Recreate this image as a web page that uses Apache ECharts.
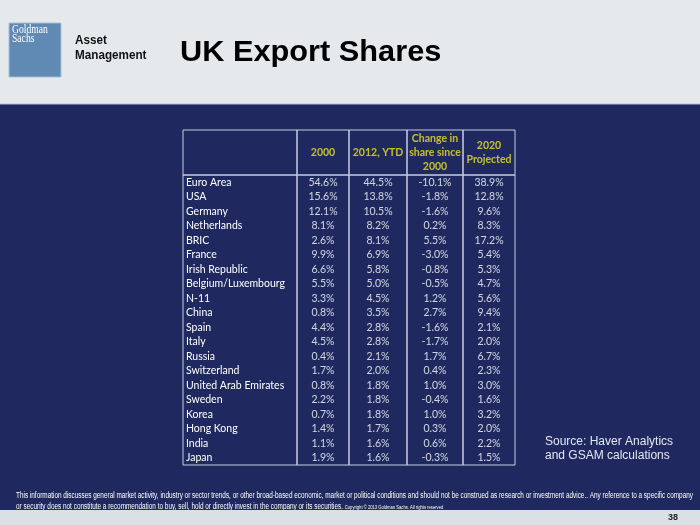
<!DOCTYPE html>
<html>
<head>
<meta charset="utf-8">
<script src="https://cdn.jsdelivr.net/npm/echarts@6/dist/echarts.min.js"></script>
<style>
  html, body { margin: 0; padding: 0; background: #e6e9ec; }
  #chart { width: 700px; height: 525px; }
</style>
</head>
<body>
<div id="chart"></div>
<script>
// table data
const countries = ["Euro Area", "USA", "Germany", "Netherlands", "BRIC", "France", "Irish Republic",
  "Belgium/Luxembourg", "N-11", "China", "Spain", "Italy", "Russia", "Switzerland",
  "United Arab Emirates", "Sweden", "Korea", "Hong Kong", "India", "Japan"];
const columnTitles = ["", "2000", "2012, YTD", "Change in\nshare since\n2000", "2020\nProjected"];
const share2000 = [54.6, 15.6, 12.1, 8.1, 2.6, 9.9, 6.6, 5.5, 3.3, 0.8, 4.4, 4.5, 0.4, 1.7, 0.8, 2.2, 0.7, 1.4, 1.1, 1.9];
const share2012 = [44.5, 13.8, 10.5, 8.2, 8.1, 6.9, 5.8, 5.0, 4.5, 3.5, 2.8, 2.8, 2.1, 2.0, 1.8, 1.8, 1.8, 1.7, 1.6, 1.6];
const changeSince2000 = [-10.1, -1.8, -1.6, 0.2, 5.5, -3.0, -0.8, -0.5, 1.2, 2.7, -1.6, -1.7, 1.7, 0.4, 1.0, -0.4, 1.0, 0.3, 0.6, -0.3];
const projected2020 = [38.9, 12.8, 9.6, 8.3, 17.2, 5.4, 5.3, 4.7, 5.6, 9.4, 2.1, 2.0, 6.7, 2.3, 3.0, 1.6, 3.2, 2.0, 2.2, 1.5];

const valueCols = [share2000, share2012, changeSince2000, projected2020];

// layout
const colEdges = [183, 297, 349, 407, 463, 515];
const headTop = 130, bodyTop = 175, bodyBottom = 465;
const navy = "#1f295f";
const lineColor = "#c9cde0";
const cellFont = "Lato";
const cellSize = 10.5;

const footer1 = "This information discusses general market activity, industry or sector trends, or other broad-based economic, market or political conditions and should not be construed as research or investment advice.. Any reference to a specific company";
const footer2 = "or security does not constitute a recommendation to buy, sell, hold or directly invest in the company or its securities.";
const copyrightText = "Copyright \u00a9 2013 Goldman Sachs. All rights reserved";

// squeeze footer text like the narrow font of the slide
const ctx = document.createElement("canvas").getContext("2d");
ctx.font = "8.5px 'Liberation Sans'";
const footScale = 677 / ctx.measureText(footer1).width;
const foot2Width = ctx.measureText(footer2 + " ").width * footScale;

let grids = [], xAxes = [], yAxes = [], series = [];

for (let c = 0; c < 5; c++) {
  const left = colEdges[c];
  const width = colEdges[c + 1] - colEdges[c];
  // body grid
  grids.push({ left: left, top: bodyTop, width: width, height: bodyBottom - bodyTop,
    show: true, borderColor: lineColor, borderWidth: 1, backgroundColor: "transparent" });
  xAxes.push({ gridIndex: c, type: "category", data: [columnTitles[c]], show: false });
  yAxes.push({
    gridIndex: c, type: "category", data: countries, inverse: true, show: c === 0,
    axisLine: { show: false }, axisTick: { show: false }, splitLine: { show: false },
    axisLabel: { inside: true, margin: 3, color: "#ffffff", fontFamily: cellFont, fontSize: cellSize },
  });
}
for (let c = 0; c < 5; c++) {
  const left = colEdges[c];
  const width = colEdges[c + 1] - colEdges[c];
  // header grid
  grids.push({ left: left, top: headTop, width: width, height: bodyTop - headTop,
    show: true, borderColor: lineColor, borderWidth: 1, backgroundColor: "transparent" });
  xAxes.push({ gridIndex: 5 + c, type: "category", data: [columnTitles[c]], show: false });
  yAxes.push({ gridIndex: 5 + c, type: "category", data: ["head"], show: false });
}

valueCols.forEach((vals, k) => {
  const c = k + 1;
  series.push({
    type: "scatter", xAxisIndex: c, yAxisIndex: c, silent: true,
    symbol: "rect", symbolSize: 1, itemStyle: { color: "rgba(0,0,0,0)" },
    label: {
      show: true, position: "inside", color: "#ffffff", fontFamily: cellFont, fontSize: cellSize,
      formatter: (p) => p.value[2].toFixed(1) + "%",
    },
    data: vals.map((v, i) => [0, i, v]),
  });
  // column header
  series.push({
    type: "scatter", xAxisIndex: 5 + c, yAxisIndex: 5 + c, silent: true,
    symbol: "rect", symbolSize: 1, itemStyle: { color: "rgba(0,0,0,0)" },
    label: {
      show: true, position: "inside", color: "#ece41c", fontFamily: cellFont, fontSize: cellSize,
      fontWeight: "bold", lineHeight: 14, formatter: () => columnTitles[c],
    },
    data: [[0, 0]],
  });
});

const chart = echarts.init(document.getElementById("chart"), null, { renderer: "canvas" });
chart.setOption({
  animation: false,
  grid: grids,
  xAxis: xAxes,
  yAxis: yAxes,
  series: series,
  graphic: [
    { type: "rect", z: -10, shape: { x: 0, y: 0, width: 700, height: 104 }, style: { fill: "#e6e9ec" } },
    { type: "rect", z: -10, shape: { x: 0, y: 104, width: 700, height: 406 }, style: { fill: navy } },
    { type: "rect", z: -9, shape: { x: 0, y: 103.5, width: 700, height: 1 }, style: { fill: "#b9c0cc" } },
    // logo
    { type: "rect", z: -5, shape: { x: 9, y: 23, width: 52, height: 54 },
      style: { fill: "#6089b4", stroke: "#a9bfd6", lineWidth: 1 } },
    { type: "text", z: 5, x: 12, y: 36, scaleX: 0.74,
      style: { text: "Goldman", fill: "#ffffff", font: "13px 'Liberation Serif'", textVerticalAlign: "bottom" } },
    { type: "text", z: 5, x: 12, y: 45, scaleX: 0.74,
      style: { text: "Sachs", fill: "#ffffff", font: "13px 'Liberation Serif'", textVerticalAlign: "bottom" } },
    { type: "text", z: 5, x: 75, y: 47, scaleX: 0.9,
      style: { text: "Asset", fill: "#111111", font: "bold 13px 'Liberation Sans'", textVerticalAlign: "bottom" } },
    { type: "text", z: 5, x: 75, y: 62, scaleX: 0.9,
      style: { text: "Management", fill: "#111111", font: "bold 13px 'Liberation Sans'", textVerticalAlign: "bottom" } },
    // title
    { type: "text", z: 5, x: 180, y: 53, scaleX: 1.06,
      style: { text: "UK Export Shares", fill: "#000000", font: "bold 29px 'Liberation Sans'", textVerticalAlign: "middle" } },
    // source note
    { type: "text", z: 5, x: 545, y: 449,
      style: { text: "Source: Haver Analytics\nand GSAM calculations", fill: "#e4e7f0",
        font: "12px 'Liberation Sans'", lineHeight: 14, textVerticalAlign: "middle" } },
    // footer disclaimer
    { type: "text", z: 5, x: 16, y: 496, scaleX: footScale,
      style: { text: footer1, fill: "#ffffff", font: "8.5px 'Liberation Sans'", textVerticalAlign: "middle" } },
    { type: "text", z: 5, x: 16, y: 507, scaleX: footScale,
      style: { text: footer2, fill: "#ffffff", font: "8.5px 'Liberation Sans'", textVerticalAlign: "middle" } },
    { type: "text", z: 5, x: 16 + foot2Width, y: 507, scaleX: footScale,
      style: { text: copyrightText, fill: "#ffffff", font: "5.5px 'Liberation Sans'", textVerticalAlign: "middle" } },
    { type: "rect", z: 6, shape: { x: 0, y: 510, width: 700, height: 15 }, style: { fill: "#dae0e6" } },
    { type: "text", z: 7, x: 678, y: 518,
      style: { text: "38", fill: "#222222", font: "bold 9px 'Liberation Sans'", textAlign: "right", textVerticalAlign: "middle" } },
  ],
});
</script>
</body>
</html>
